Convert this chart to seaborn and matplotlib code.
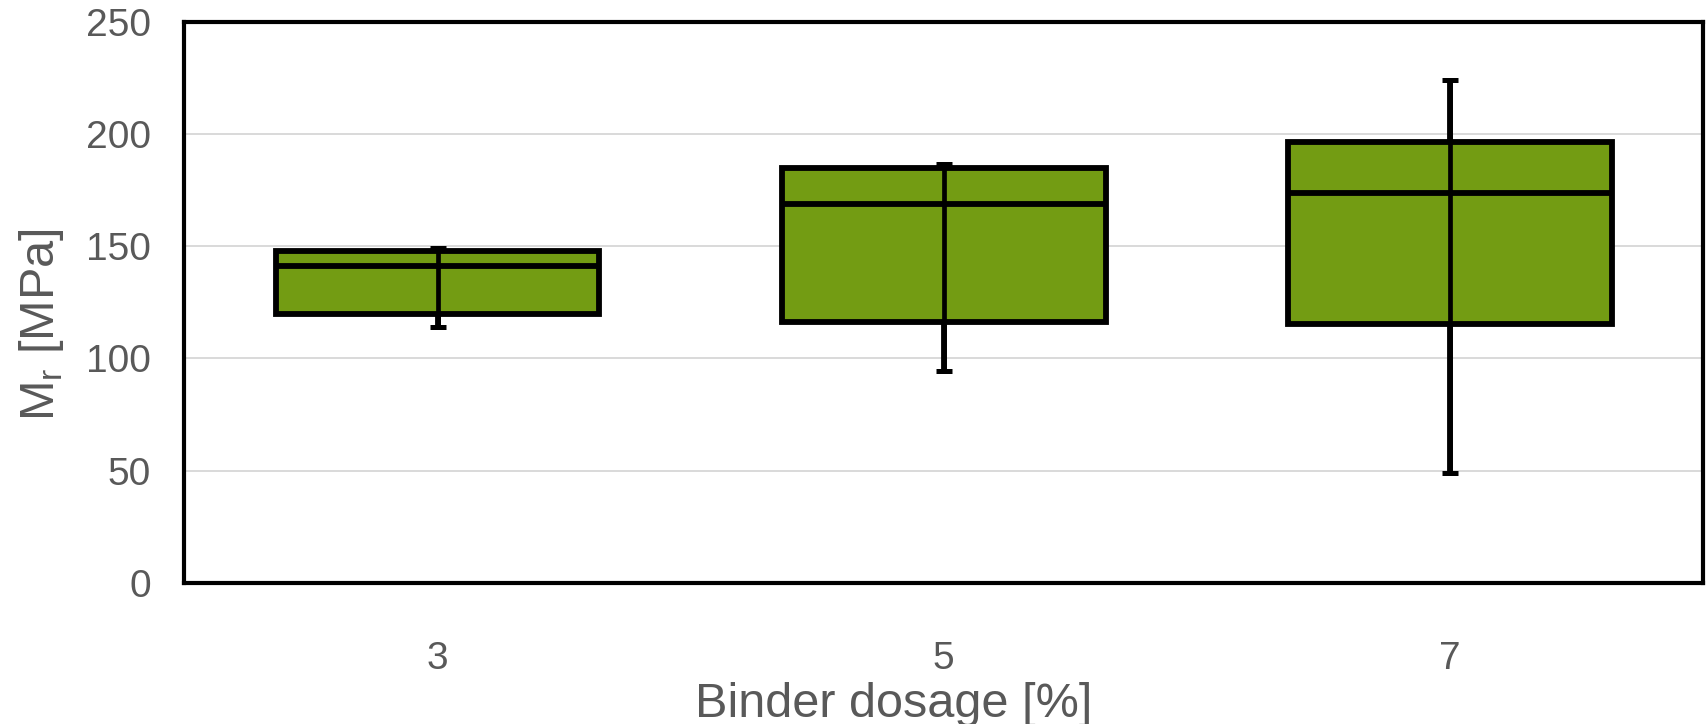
import numpy as np
import pandas as pd
import seaborn as sns
import matplotlib.pyplot as plt

# values
dosage = ['3', '5', '7']
mr_min = [114, 94.5, 49]
mr_q1 = [119.6, 116, 115.5]
mr_median = [141, 169, 173.5]
mr_q3 = [148, 185, 196.5]
mr_max = [149, 186.5, 224]

# five points per dosage -> quartiles land exactly on the read values
rows = []
for i, d in enumerate(dosage):
    for v in (mr_min[i], mr_q1[i], mr_median[i], mr_q3[i], mr_max[i]):
        rows.append({'Binder dosage': d, 'Mr': v})
df = pd.DataFrame(rows)

sns.set_style('white')
plt.rcParams['font.family'] = ['Liberation Sans', 'DejaVu Sans']

grey = '#595959'
green = '#739C13'

fig = plt.figure(figsize=(17.08, 7.24), dpi=100)
ax = fig.add_axes([0.108, 0.195, 0.889, 0.775])

ax.yaxis.grid(True, color='#D9D9D9', linewidth=1.4, zorder=0)
ax.set_axisbelow(True)

sns.boxplot(data=df, x='Binder dosage', y='Mr', order=dosage, whis=(0, 100),
            width=0.64, color=green, saturation=1, linecolor='black',
            linewidth=4.2, showcaps=False, ax=ax,
            medianprops={'color': 'black', 'linewidth': 4.2})

# whisker line through the box, with small caps
x_pos = np.arange(len(dosage))
lo = np.array(mr_median) - np.array(mr_min)
hi = np.array(mr_max) - np.array(mr_median)
ax.errorbar(x_pos, mr_median, yerr=[lo, hi], fmt='none', ecolor='black',
            elinewidth=3.4, capsize=5.5, capthick=3.6, zorder=5)

ax.set_ylim(0, 250)
ax.set_yticks(range(0, 251, 50))
ax.set_xlim(-0.5, 2.5)

for s in ax.spines.values():
    s.set_visible(True)
    s.set_color('black')
    s.set_linewidth(3)

ax.tick_params(axis='y', length=0, pad=24, labelsize=28, labelcolor=grey)
ax.tick_params(axis='x', length=0, pad=42, labelsize=28, labelcolor=grey)

ax.set_xlabel('Binder dosage [%]', fontsize=35, color=grey)
ax.set_ylabel(r'M$_\mathregular{r}$ [MPa]', fontsize=35, color=grey)
ax.xaxis.set_label_coords(0.467, -0.176)
ax.yaxis.set_label_coords(-0.078, 0.46)

fig.savefig('out.png', dpi=100)
